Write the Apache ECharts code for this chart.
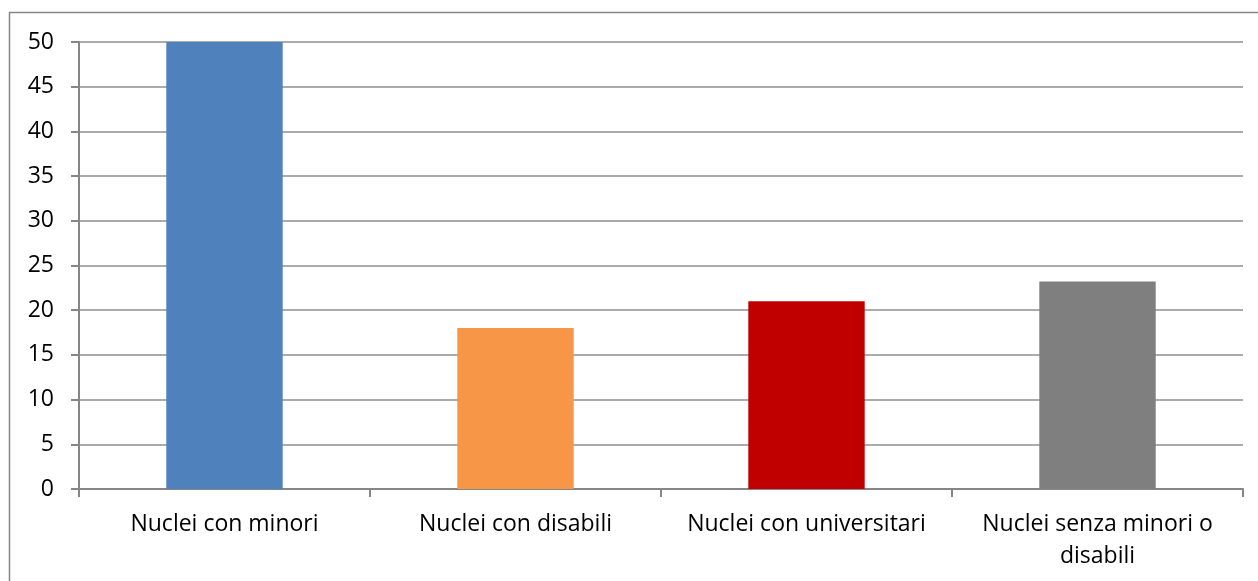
<!DOCTYPE html>
<html>
<head>
<meta charset="utf-8">
<script src="https://cdn.jsdelivr.net/npm/echarts@6/dist/echarts.min.js"></script>
<style>
  html, body { margin: 0; padding: 0; background: #fff; }
  #main { width: 1258px; height: 581px; }
</style>
</head>
<body>
<div id="main"></div>
<script>
// dati del grafico
var categorie = ["Nuclei con minori", "Nuclei con disabili", "Nuclei con universitari", "Nuclei senza minori o\ndisabili"];
var valori = [50, 18, 21, 23.2];
var colori = ["#4f81bd", "#f79646", "#c00000", "#7f7f7f"];

var myChart = echarts.init(document.getElementById("main"));
var option;

option = {
  animation: false,
  textStyle: { fontFamily: "Open Sans" },
  graphic: [
    {
      // bordo del grafico (solo lati sinistro e superiore visibili)
      type: "rect",
      shape: { x: 9.5, y: 12.5, width: 1260, height: 580 },
      style: { fill: "none", stroke: "#868686", lineWidth: 1.5 },
      silent: true,
    },
  ],
  grid: {
    left: 79,
    right: 15,
    top: 42,
    bottom: 92,
  },
  xAxis: {
    type: "category",
    data: categorie,
    axisLine: { lineStyle: { color: "#868686", width: 2 } },
    axisTick: { show: true, length: 8, lineStyle: { color: "#868686", width: 2 } },
    axisLabel: {
      color: "#000",
      fontSize: 23,
      margin: 19,
      lineHeight: 32,
      interval: 0,
    },
  },
  yAxis: {
    type: "value",
    min: 0,
    max: 50,
    interval: 5,
    axisLine: { show: true, lineStyle: { color: "#868686", width: 2 } },
    axisTick: { show: true, length: 8, lineStyle: { color: "#868686", width: 2 } },
    axisLabel: { color: "#000", fontSize: 23, margin: 25 },
    splitLine: { lineStyle: { color: "#ababab", width: 2 } },
  },
  series: [
    {
      type: "bar",
      barCategoryGap: "60%",
      data: valori.map(function (v, i) {
        return { value: v, itemStyle: { color: colori[i] } };
      }),
    },
  ],
};

option && myChart.setOption(option);
</script>
</body>
</html>
